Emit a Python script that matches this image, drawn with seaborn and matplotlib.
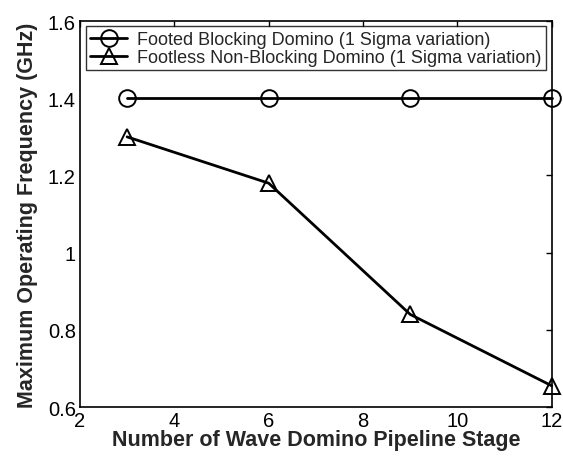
import pandas as pd
import matplotlib
matplotlib.use('Agg')
import matplotlib.pyplot as plt
import seaborn as sns

sns.set_style('white')
plt.rcParams['font.family'] = ['Liberation Sans', 'DejaVu Sans']

stages = [3, 6, 9, 12]
footed_freq = [1.40, 1.40, 1.40, 1.40]
footless_freq = [1.30, 1.18, 0.84, 0.655]

footed_label = 'Footed Blocking Domino (1 Sigma variation)'
footless_label = 'Footless Non-Blocking Domino (1 Sigma variation)'

df = pd.DataFrame({
    'stage': stages * 2,
    'freq': footed_freq + footless_freq,
    'series': [footed_label] * len(stages) + [footless_label] * len(stages),
})

fig = plt.figure(figsize=(5.63, 4.6), dpi=100)
ax = fig.add_axes([0.142, 0.113, 0.838, 0.839])

sns.lineplot(
    data=df, x='stage', y='freq', hue='series', style='series',
    markers={footed_label: 'o', footless_label: '^'},
    dashes=False,
    palette={footed_label: 'black', footless_label: 'black'},
    markersize=12, markerfacecolor='none', markeredgecolor='black',
    markeredgewidth=1.4, linewidth=2.0, ax=ax, clip_on=False
)

ax.set_xlim(2, 12)
ax.set_ylim(0.6, 1.6)
ax.set_xticks([2, 4, 6, 8, 10, 12])
ax.set_yticks([0.6, 0.8, 1.0, 1.2, 1.4, 1.6])
ax.set_yticklabels(['0.6', '0.8', '1', '1.2', '1.4', '1.6'])
ax.tick_params(direction='in', top=True, right=True, labelsize=14.5,
               length=4, width=1, colors='black', pad=3)
for sp in ax.spines.values():
    sp.set_color('black')
    sp.set_linewidth(1.2)

ax.set_xlabel('Number of Wave Domino Pipeline Stage', fontsize=15.5,
              fontweight='bold', labelpad=-1)
ax.set_ylabel('Maximum Operating Frequency (GHz)', fontsize=15.5,
              fontweight='bold', labelpad=7)

leg = ax.legend(loc='upper right', fontsize=13, frameon=True,
                fancybox=False, edgecolor='black', borderpad=0.25,
                handlelength=2.0, handletextpad=0.6, labelspacing=0.05,
                borderaxespad=0.3)
leg.get_frame().set_linewidth(1.0)
for h in leg.legend_handles:
    h.set_markerfacecolor('none')
    h.set_markeredgecolor('black')

fig.savefig('out.png', dpi=100)
